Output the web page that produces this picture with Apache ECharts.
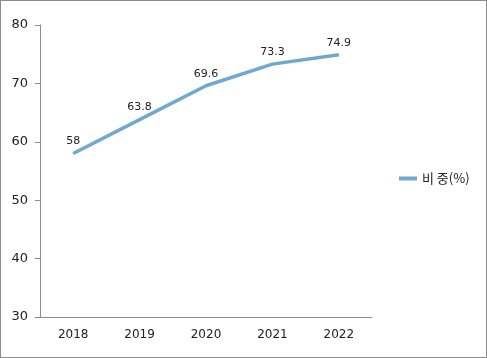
<!DOCTYPE html>
<html><head><meta charset="utf-8">
<script src="https://cdn.jsdelivr.net/npm/echarts@6/dist/echarts.min.js"></script>
<style>html,body{margin:0;padding:0;}#c{width:487px;height:358px;box-sizing:border-box;border:1px solid #8c8c8c;}</style>
</head><body><div id="c"></div>
<script>
const categories = ['2018','2019','2020','2021','2022'];
const values = [58, 63.8, 69.6, 73.3, 74.9];
const seriesName = '비 중(%)';
const chart = echarts.init(document.getElementById('c'));
chart.setOption({
  animation: false,
  grid: {left: 39, top: 24, width: 332, height: 292},
  legend: {
    data: [{name: seriesName, icon: 'rect'}], left: 393, top: 166, itemWidth: 18, itemHeight: 4, itemGap: 5,
    textStyle: {fontFamily: 'Noto Sans CJK KR', fontSize: 13, color: '#222'}
  },
  xAxis: {
    type: 'category', data: categories, boundaryGap: true,
    axisLine: {lineStyle: {color: '#8c8c8c'}},
    axisTick: {show: false},
    axisLabel: {color: '#222', fontSize: 12, margin: 12, fontFamily: 'DejaVu Sans'}
  },
  yAxis: {
    type: 'value', min: 30, max: 80, interval: 10,
    axisLine: {show: true, lineStyle: {color: '#8c8c8c'}},
    axisTick: {show: true, length: 5, lineStyle: {color: '#8c8c8c'}},
    splitLine: {show: false},
    axisLabel: {color: '#222', fontSize: 13, margin: 12, fontFamily: 'DejaVu Sans'}
  },
  series: [{
    name: seriesName, type: 'line', data: values,
    showSymbol: true, symbol: 'circle', symbolSize: 1,
    lineStyle: {color: '#6fa9cd', width: 3.5},
    itemStyle: {color: '#6fa9cd'},
    label: {show: true, position: 'top', distance: 6, color: '#222', fontSize: 11, fontFamily: 'DejaVu Sans'}
  }]
});
</script></body></html>
